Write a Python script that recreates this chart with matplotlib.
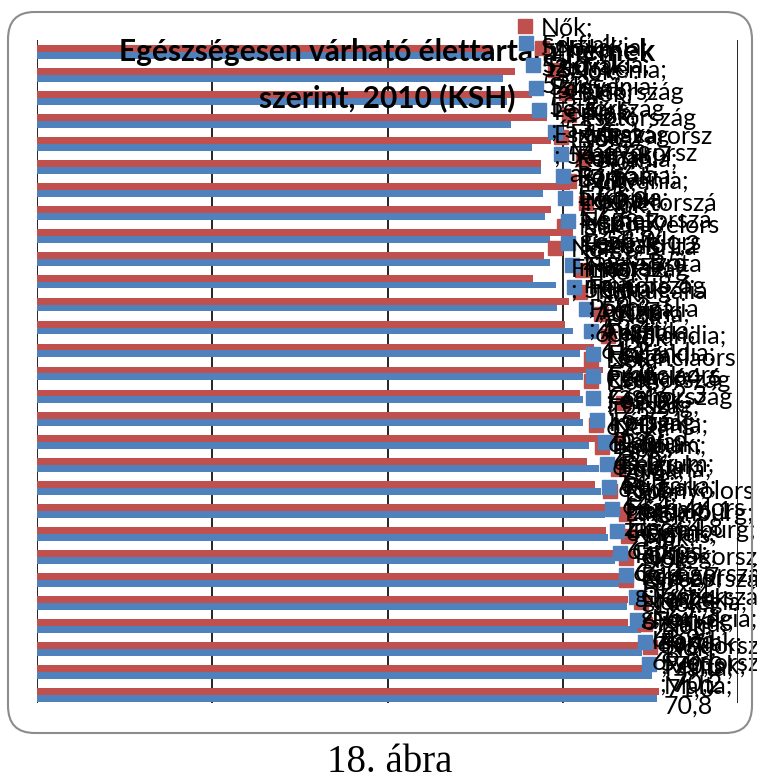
import matplotlib.pyplot as plt
from matplotlib.patches import FancyBboxPatch

# Egészségesen várható élettartam, 2010 - felülről lefelé
orszagok = ["Szlovákia", "Szlovénia", "Lettország", "Észtország", "Magyarország",
            "Románia", "Litvánia", "Németország", "Lengyelország", "Nagy-Britannia",
            "Finnország", "Portugália", "Ausztria", "Hollandia", "Franciaország",
            "Csehország", "Írország", "Dánia", "Belgium", "Bulgária",
            "Spanyolország", "Luxemburg", "Ciprus", "Görögország", "Olaszország",
            "Norvégia", "Izland", "Svédország", "Málta"]
nok = [52.0, 54.5, 56.5, 58.2, 58.7, 57.5, 60.8, 58.7, 61.2, 57.9,
       56.6, 60.7, 60.3, 63.6, 64.6, 62.0, 62.0, 66.9, 62.8, 63.7,
       66.1, 64.9, 67.3, 67.7, 67.4, 67.4, 69.7, 70.3, 71.0]
ferfiak = [52.2, 53.2, 53.6, 54.1, 56.5, 57.5, 57.7, 58.0, 58.5, 58.6,
           59.2, 59.4, 61.2, 62.0, 62.3, 62.3, 62.3, 63.0, 64.1, 64.4,
           64.8, 65.2, 66.0, 66.4, 67.3, 68.9, 69.0, 70.2, 70.8]
sorozatok = [("Nők", nok, "#C0504D", -0.15), ("Férfiak", ferfiak, "#4F81BD", 0.15)]
x_racs = [0, 20, 40, 60, 80]


def tordel(szoveg, szel=10):
    """Excel-szerű tördelés: szavanként, túl hosszú szót darabolva"""
    sorok, akt = [], ""
    for szo in szoveg.split():
        while len(szo) > szel:
            if akt:
                sorok.append(akt)
                akt = ""
            sorok.append(szo[:szel])
            szo = szo[szel:]
        if not akt:
            akt = szo
        elif len(akt) + 1 + len(szo) <= szel:
            akt += " " + szo
        else:
            sorok.append(akt)
            akt = szo
    if akt:
        sorok.append(akt)
    return "\n".join(sorok)


plt.rcParams['font.family'] = ['Lato', 'DejaVu Sans']

fig = plt.figure(figsize=(7.57, 7.80), dpi=100)

# lekerekített keret
keret = FancyBboxPatch((8 / 757, 47 / 780), 744 / 757, 721 / 780,
                       boxstyle="round,pad=0,rounding_size=0.035",
                       transform=fig.transFigure, fill=False,
                       edgecolor="#8c8c8c", linewidth=1.5)
fig.patches.append(keret)

ax = fig.add_axes([37 / 757, 77 / 780, 701 / 757, 663 / 780])
y = list(range(len(orszagok)))

for nev, ertekek, szin, eltolas in sorozatok:
    ax.barh([i + eltolas for i in y], ertekek, height=0.3, color=szin, zorder=2)

ax.set_xlim(0, 80)
ax.set_ylim(len(orszagok) - 0.65, -0.52)
ax.set_xticks(x_racs)
ax.xaxis.grid(True, color="black", linewidth=1.2, zorder=1)
ax.tick_params(length=0, labelbottom=False, labelleft=False)
for s in ax.spines.values():
    s.set_visible(False)

# cím a sávok fölött, de a feliratok alatt
ax.text(387 / 757, 1 - 75 / 780,
        "Egészségesen várható élettartam nemek\nszerint, 2010 (KSH)",
        transform=fig.transFigure, ha="center", va="center", fontsize=21.5,
        fontweight="bold", linespacing=1.7, zorder=2.5)

# adatfeliratok (összecsúszva, mint az eredetiben)
for nev, ertekek, szin, eltolas in sorozatok:
    for i, (orszag, v) in enumerate(zip(orszagok, ertekek)):
        mx = 55.7 + 0.75 * (v - 52)
        my = -0.75 + 0.965 * i + eltolas * 2.5
        ax.plot(mx, my, marker="s", markersize=10.5, color=szin,
                linestyle="none", zorder=3, clip_on=False)
        cimke = tordel(f"{nev}; {orszag}; {v:.1f}".replace(".", ","))
        ax.annotate(cimke, xy=(mx, my), xytext=(11, 7), textcoords="offset points",
                    va="top", ha="left", fontsize=18, color="black",
                    linespacing=0.85, zorder=4, annotation_clip=False)

fig.text(390 / 757, 1 - 763 / 780, "18. ábra", ha="center", va="center",
         fontsize=28, family="Liberation Serif")

fig.savefig("out.png", dpi=100)
